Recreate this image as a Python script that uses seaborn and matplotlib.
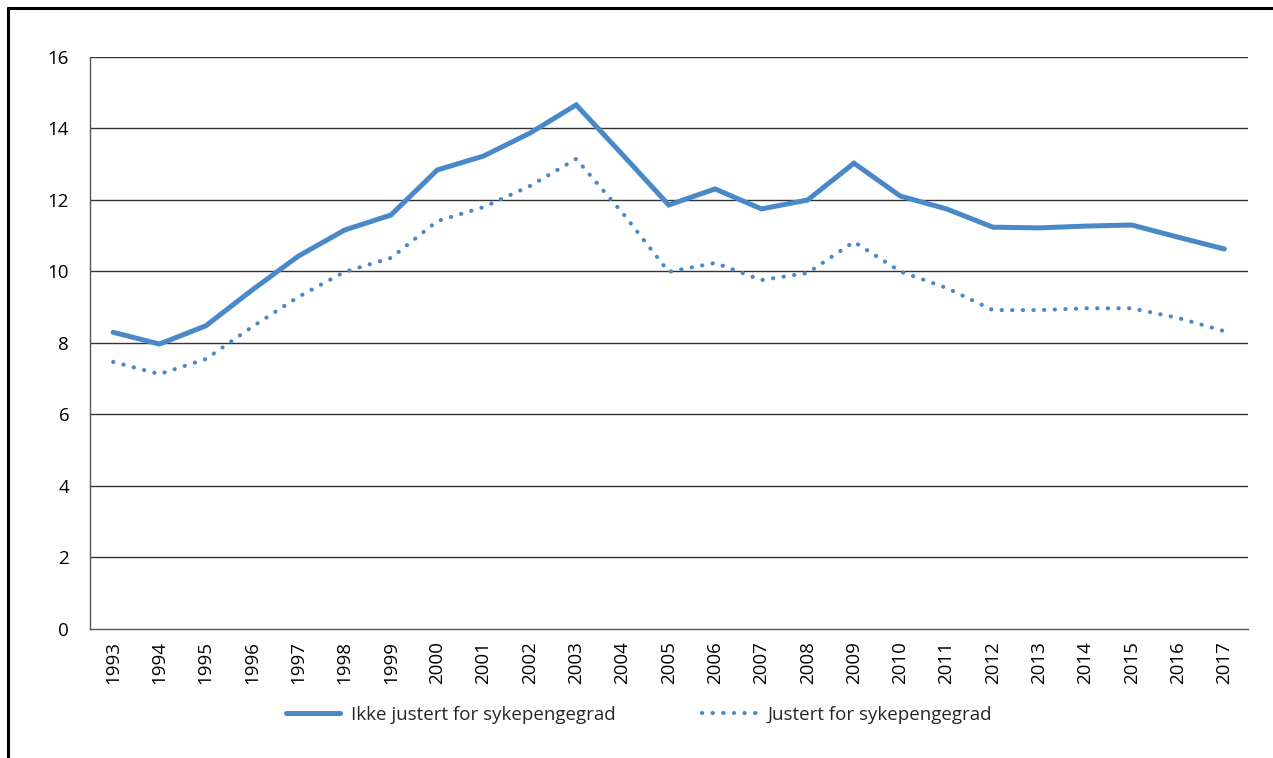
import pandas as pd
import seaborn as sns
import matplotlib.pyplot as plt
from matplotlib.lines import Line2D

years = list(range(1993, 2018))
ikke_justert = [8.30, 7.97, 8.48, 9.48, 10.43, 11.16, 11.58, 12.84, 13.23, 13.87, 14.66,
                13.27, 11.86, 12.31, 11.75, 12.00, 13.03, 12.11, 11.75, 11.24, 11.22,
                11.27, 11.30, 10.96, 10.63]
justert = [7.47, 7.13, 7.55, 8.45, 9.29, 9.99, 10.38, 11.41, 11.80, 12.39, 13.15,
           11.64, 9.99, 10.24, 9.76, 9.96, 10.83, 10.00, 9.54, 8.92, 8.92,
           8.97, 8.97, 8.70, 8.33]
series_names = ["Ikke justert for sykepengegrad", "Justert for sykepengegrad"]

sns.set_style("white")
plt.rcParams['font.family'] = ['Open Sans', 'DejaVu Sans']

df = pd.DataFrame({"year": years, series_names[0]: ikke_justert, series_names[1]: justert})
blue = "#4A89C8"
dots = (0, (0.05, 2.5))

fig = plt.figure(figsize=(12.73, 7.58), dpi=100)
ax = fig.add_axes([0.0707, 0.1702, 0.9093, 0.7546])

sns.lineplot(data=df, x="year", y=series_names[0], ax=ax, color=blue, lw=3.6,
             solid_joinstyle="miter", label=series_names[0])
sns.lineplot(data=df, x="year", y=series_names[1], ax=ax, color=blue, lw=3.0,
             linestyle=dots, dash_capstyle="round", label=series_names[1])

ax.set_xlim(1992.5, 2017.5)
ax.set_ylim(0, 16)
ax.set_yticks(range(0, 17, 2))
ax.set_xticks(years)
ax.set_xticklabels([str(y) for y in years], rotation=90)
ax.set_xticks([y - 0.5 for y in years] + [2017.5], minor=True)
ax.tick_params(axis="x", which="major", length=0, pad=9, labelsize=13.5, colors="black")
ax.tick_params(axis="x", which="minor", length=6, width=1, color="#404040", direction="out")
ax.tick_params(axis="y", length=6, width=1, color="#404040", pad=9, labelsize=13.5, labelcolor="black")
ax.set_xlabel("")
ax.set_ylabel("")

for v in range(2, 17, 2):
    ax.axhline(v, color="#333333", lw=1, zorder=0)
for s in ["top", "right"]:
    ax.spines[s].set_visible(False)
ax.spines["left"].set_color("#555555")
ax.spines["bottom"].set_color("#555555")
ax.spines["left"].set_linewidth(1)
ax.spines["bottom"].set_linewidth(1)

handles = [Line2D([], [], color=blue, lw=3.6),
           Line2D([], [], color=blue, lw=3.0, linestyle=dots, dash_capstyle="round")]
ax.legend(handles, series_names, loc="center", bbox_to_anchor=(0.502, 0.057),
          bbox_transform=fig.transFigure, ncol=2, frameon=False, fontsize=13.5,
          handlelength=2.9, columnspacing=4.6, handletextpad=0.6)

# outer frame (left and top edges only, as in the source)
fig.add_artist(Line2D([0.0063, 0.0063], [0, 0.9894], transform=fig.transFigure, color="black", lw=2.2))
fig.add_artist(Line2D([0.0063, 1.0], [0.9894, 0.9894], transform=fig.transFigure, color="black", lw=2.2))

fig.savefig("out.png", dpi=100)
